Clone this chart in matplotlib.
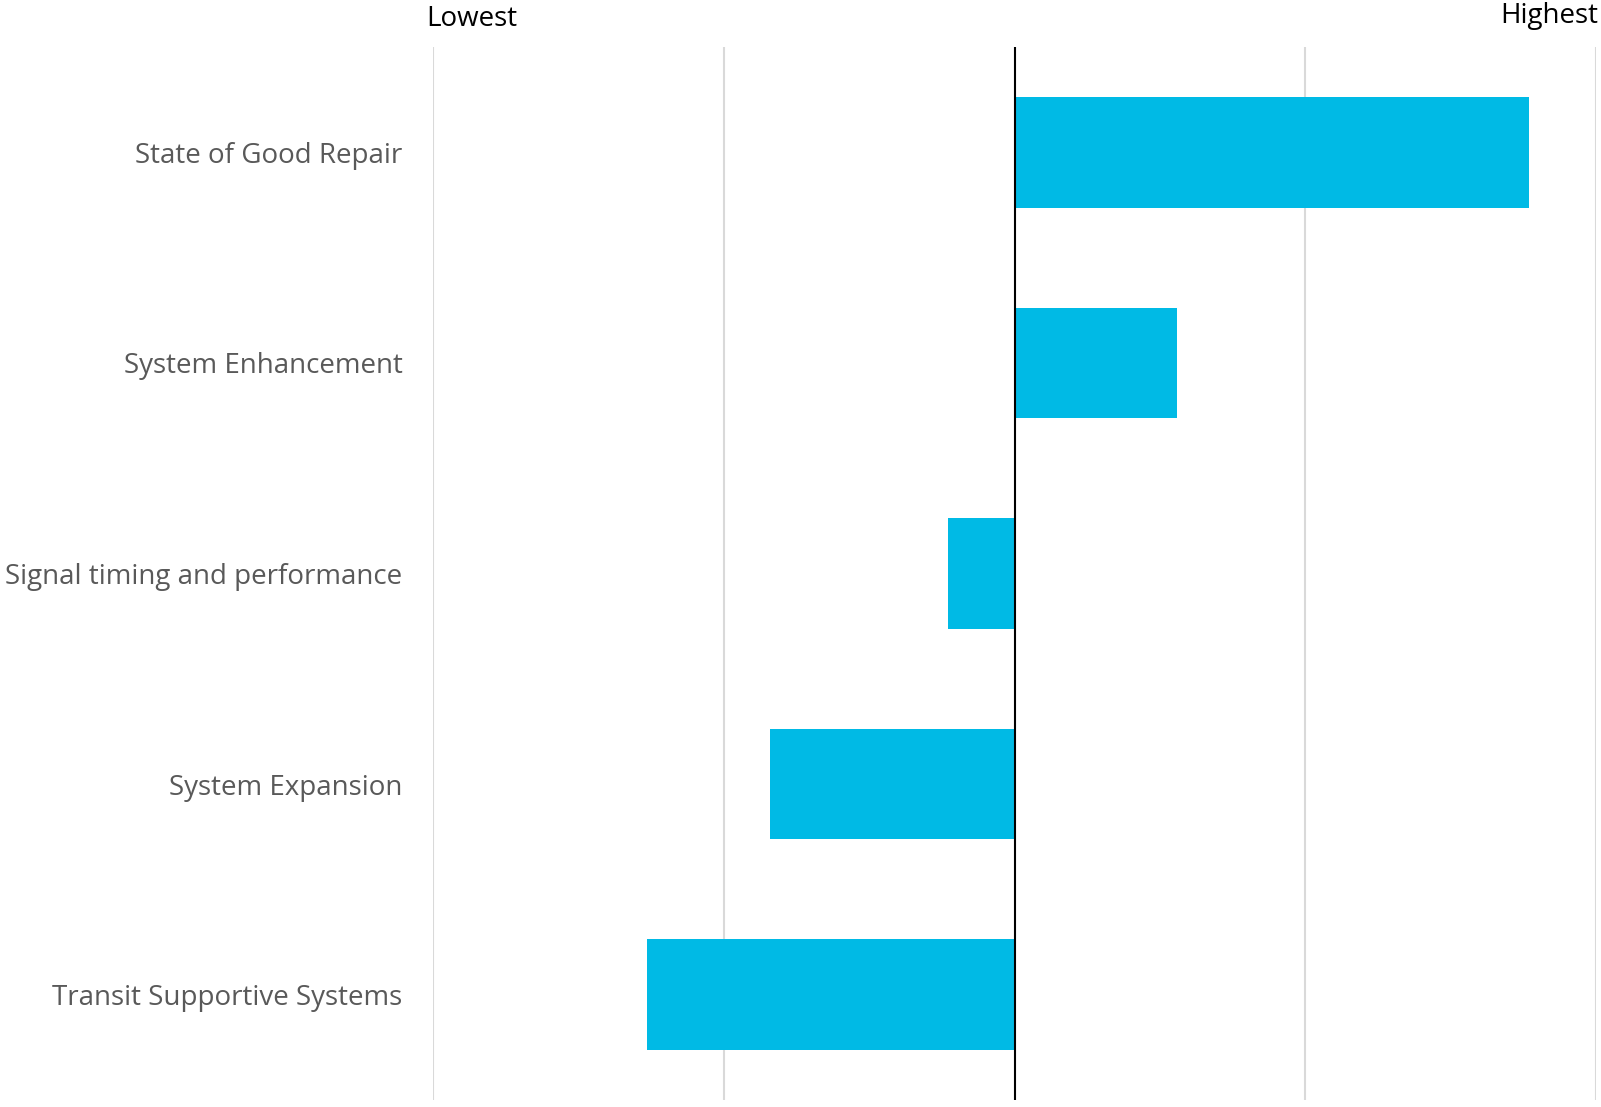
import matplotlib
matplotlib.use("Agg")
import matplotlib.pyplot as plt

# priority categories, top to bottom, and their relative scores
categories = ["State of Good Repair", "System Enhancement", "Signal timing and performance",
              "System Expansion", "Transit Supportive Systems"]
scores = [1.77, 0.56, -0.23, -0.84, -1.265]

plt.rcParams['font.family'] = ['Open Sans', 'DejaVu Sans']

fig = plt.figure(figsize=(16.01, 11.07), dpi=100)
ax = fig.add_axes([433 / 1601, 7 / 1107, 1163 / 1601, 1053 / 1107])

ypos = list(range(len(categories)))
ax.barh(ypos, scores, height=0.525, color="#00BAE5", zorder=3)
ax.axvline(0, color="black", lw=1.5, zorder=4)

ax.set_xlim(-2, 2)
ax.set_ylim(len(categories) - 0.5, -0.5)
ax.set_xticks([-2, -1, 1, 2])
ax.xaxis.grid(True, color="#d9d9d9", lw=1.5, zorder=0)
ax.tick_params(axis="x", length=0, labelbottom=False)
ax.set_yticks(ypos)
ax.set_yticklabels(categories, fontsize=20, color="#595959")
ax.tick_params(axis="y", length=0, pad=22)
for s in ax.spines.values():
    s.set_visible(False)

fig.text(472 / 1601, 1 - 19 / 1107, "Lowest", fontsize=20, ha="center", va="center", color="black")
fig.text(1598 / 1601, 1 - 16 / 1107, "Highest", fontsize=20, ha="right", va="center", color="black")

fig.savefig("out.png", dpi=100)
